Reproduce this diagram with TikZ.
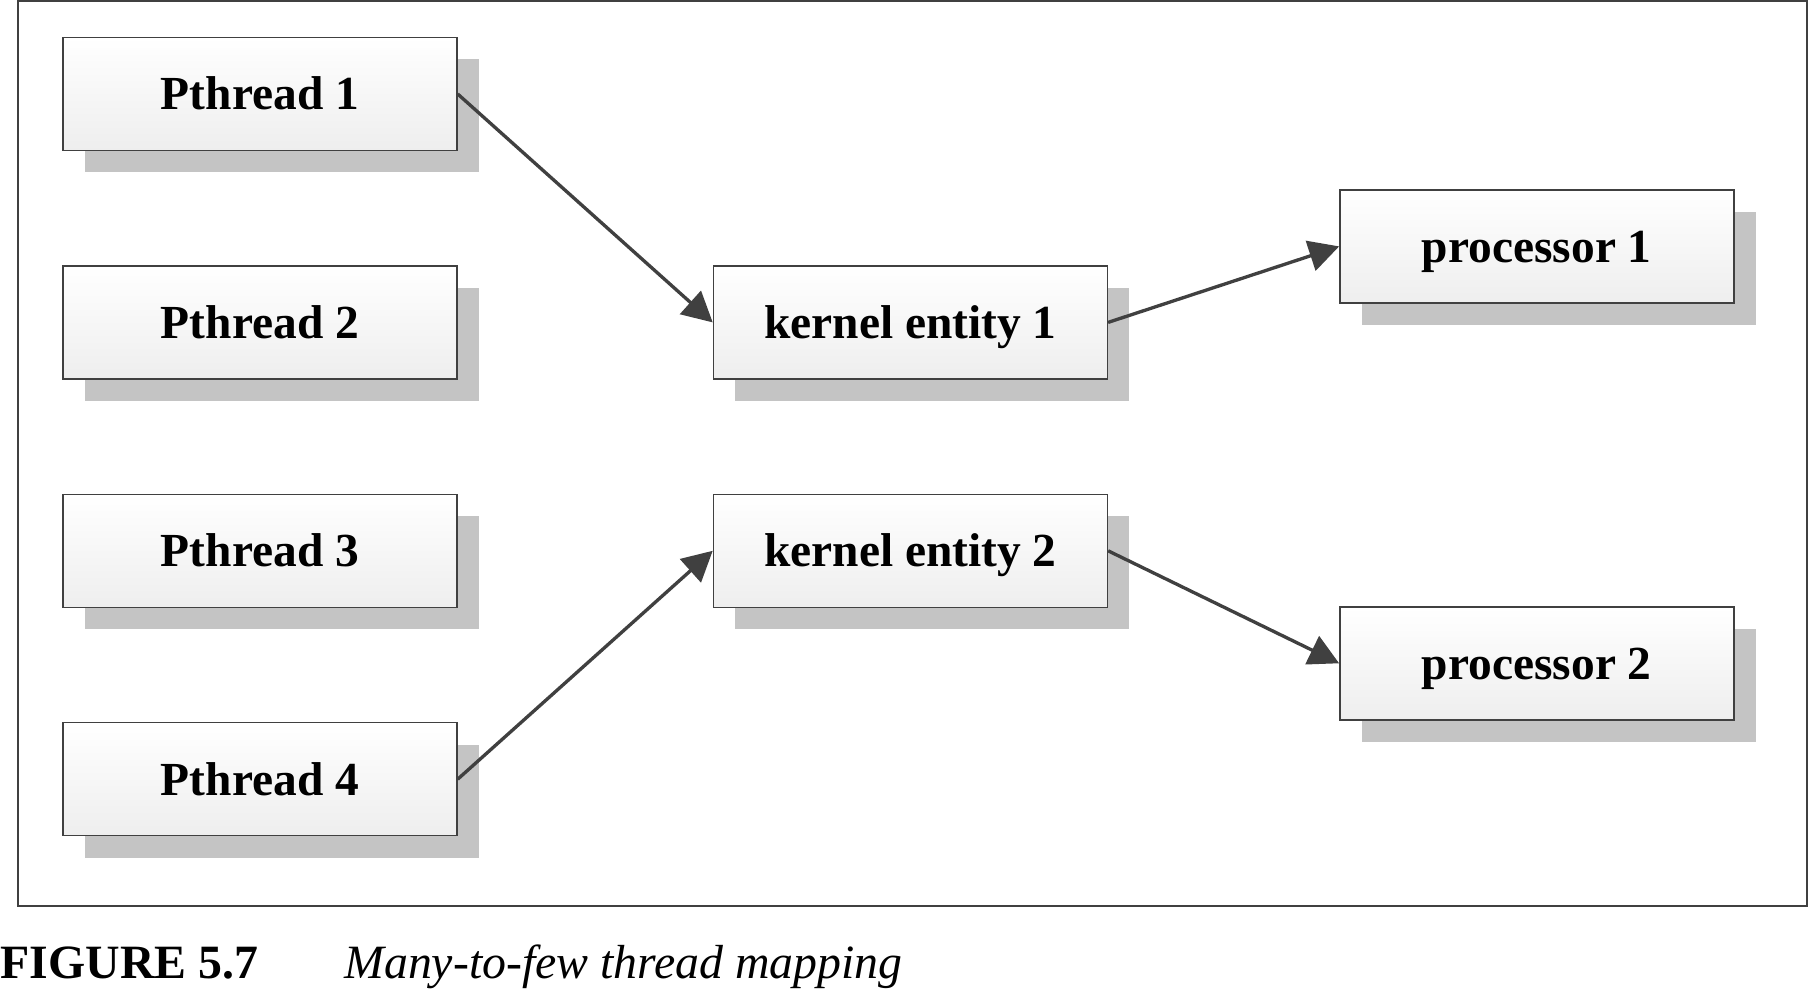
\documentclass[tikz,border=0pt]{standalone}
\usepackage{fontspec}
\setmainfont{Liberation Serif}
\usetikzlibrary{arrows.meta,positioning,shadows}
\definecolor{edgegray}{RGB}{64,64,64}
\definecolor{shadowgray}{RGB}{196,196,196}
\definecolor{boxbottom}{RGB}{238,238,238}
\tikzset{
    %Define standard arrow tip
    >={Triangle[length=3mm,width=3.1mm]},
    unit/.style={
      rectangle,
      draw=edgegray, line width=0.4pt,
      top color=white, bottom color=boxbottom,
      minimum width=3.94cm,
      minimum height=1.13cm,
      inner sep=0pt,
      text height=9pt, text depth=0pt,
      font=\fontsize{13.5}{16}\selectfont\bfseries,
      drop shadow={shadow xshift=0.22cm, shadow yshift=-0.22cm,
                   fill=shadowgray, opacity=1}},
    map/.style={
      ->, draw=edgegray, line width=0.95pt},
}

\begin{document}
\begin{tikzpicture}[node distance=1.14cm]
    \useasboundingbox (0,0) rectangle (18.12,-9.94);
    % frame
    \draw [edgegray, line width=0.4pt] (0.18,-0.01) rectangle (18.07,-9.06);
    \node (thr1) [unit] at (2.60,-0.94)
          {Pthread 1};
    \node (thr2) [unit] [below=of thr1]
          {Pthread 2};
    \node (thr3) [unit] [below=of thr2]
          {Pthread 3};
    \node (thr4) [unit] [below=of thr3]
          {Pthread 4};
    \node (ent1) [unit] [right=2.55cm of thr2]
          {kernel entity 1};
    \node (ent2) [unit] [right=2.55cm of thr3]
          {kernel entity 2};
    \node (cpu1) [unit] [right=2.31cm of ent1, yshift=7.6mm]
          {processor 1};
    \node (cpu2) [unit] [right=2.31cm of ent2, yshift=-11.25mm]
          {processor 2};
    \draw [map] (thr1.east) -- (ent1.west);
    \draw [map] (thr4.east) -- (ent2.west);
    \draw [map] (ent1.east) -- (cpu1.west);
    \draw [map] (ent2.east) -- (cpu2.west);
    \node (caption) [anchor=base west, inner sep=0pt,
          font=\fontsize{13.6}{16}\selectfont] at (0,-9.79)
          {\textbf{FIGURE 5.7}\hspace{8.6mm}\textit{Many-to-few thread mapping}};
  \end{tikzpicture}
\end{document}
